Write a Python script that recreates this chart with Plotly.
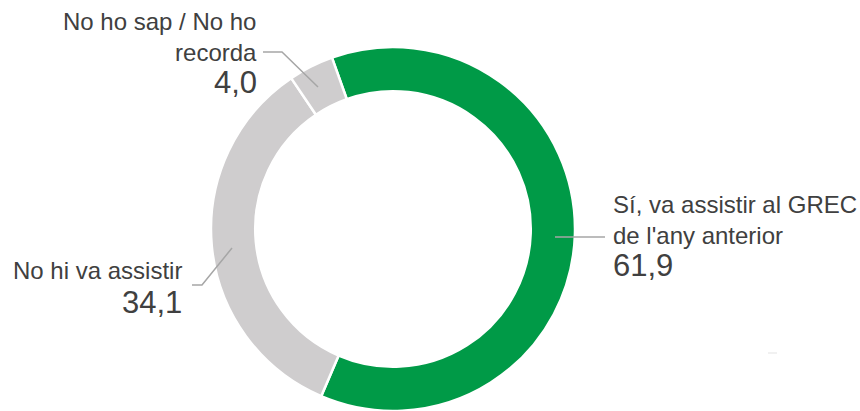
import plotly.graph_objects as go

# Data
categories = ["Sí, va assistir al GREC de l'any anterior", "No hi va assistir", "No ho sap / No ho recorda"]
display_labels = ["Sí, va assistir al GREC<br>de l'any anterior", "No hi va assistir", "No ho sap / No ho<br>recorda"]
values = [61.9, 34.1, 4.0]
colors = ["#009A47", "#CFCDCE", "#CFCDCE"]

W, H = 860, 411

def px(x):
    return x / W

def py(y):
    return 1 - y / H

fig = go.Figure()
fig.add_trace(go.Pie(
    labels=categories,
    values=values,
    hole=0.757,
    sort=False,
    direction="clockwise",
    rotation=-19.6,
    marker=dict(colors=colors, line=dict(color="white", width=2.5)),
    textinfo="none",
    hoverinfo="skip",
    showlegend=False,
    domain=dict(x=[px(393 - 182), px(393 + 182)], y=[0.0, 364 / H]),
))

def fmt(v):
    return f"{v:.1f}".replace(".", ",")

txt_color = "#404040"
lab_font = dict(family="Liberation Sans, Arial, sans-serif", size=24, color=txt_color)
num_font = dict(family="Liberation Sans, Arial, sans-serif", size=31, color=txt_color)

# label positions (pixel): (x, y_label_center, y_value_center, xanchor)
label_pos = [
    (611, 220, 265, "left"),
    (184, 270, 302, "right"),
    (259, 37, 83, "right"),
]

annotations = []
for lab, val, (x, yl, yv, xa) in zip(display_labels, values, label_pos):
    annotations.append(dict(x=px(x), y=py(yl), xref="paper", yref="paper", text=lab,
                            showarrow=False, xanchor=xa, yanchor="middle", align=xa,
                            font=lab_font))
    annotations.append(dict(x=px(x), y=py(yv), xref="paper", yref="paper", text=fmt(val),
                            showarrow=False, xanchor=xa, yanchor="middle", align=xa,
                            font=num_font))

line_style = dict(color="#A6A6A6", width=1.5)
leaders = [
    [(555, 237), (605, 237)],
    [(192, 285), (202, 285), (232, 248)],
    [(263, 52), (282, 52), (318, 87)],
]
shapes = []
for pts in leaders:
    path = "M " + " L ".join(f"{px(x)},{py(y)}" for x, y in pts)
    shapes.append(dict(type="path", path=path, xref="paper", yref="paper", line=line_style))
shapes.append(dict(type="line", x0=px(768), x1=px(777), y0=py(353), y1=py(353),
                   xref="paper", yref="paper", line=dict(color="#E3E3E3", width=1)))

fig.update_layout(
    width=W, height=H,
    margin=dict(l=0, r=0, t=0, b=0),
    paper_bgcolor="white", plot_bgcolor="white",
    annotations=annotations,
    shapes=shapes,
)

fig.write_html("out.html", config={"displayModeBar": False},
               post_script="document.body.style.margin='0px';")
